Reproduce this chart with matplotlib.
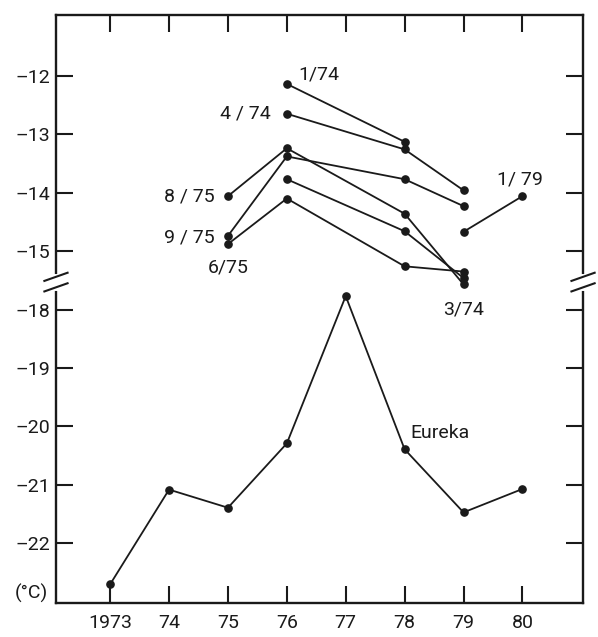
import matplotlib.pyplot as plt
import matplotlib.transforms as mtransforms

plt.rcParams['font.family'] = ['Roboto', 'DejaVu Sans']

# years on the x axis
years = [1973, 1974, 1975, 1976, 1977, 1978, 1979, 1980]
year_labels = ['1973', '74', '75', '76', '77', '78', '79', '80']

# Eureka series (lower panel, real degC)
eureka = [-22.70, -21.08, -21.39, -20.29, -17.77, -20.39, -21.47, -21.07]

# upper panel series (real degC)
s_1_74_x = [1976, 1978]
s_1_74_y = [-12.14, -13.13]
s_4_74_x = [1976, 1978, 1979]
s_4_74_y = [-12.65, -13.26, -13.96]
s_8_75_x = [1975, 1976, 1978, 1979]
s_8_75_y = [-14.06, -13.24, -14.36, -15.57]
s_9_75_x = [1975, 1976, 1978, 1979]
s_9_75_y = [-14.74, -13.38, -13.77, -14.23]
s_6_75_x = [1975, 1976, 1978, 1979]
s_6_75_y = [-14.88, -14.10, -15.26, -15.35]
s_3_74_x = [1976, 1978, 1979]
s_3_74_y = [-13.77, -14.66, -15.46]
s_1_79_x = [1979, 1980]
s_1_79_y = [-14.67, -14.06]

upper_ticks = [-12, -13, -14, -15]
lower_ticks = [-18, -19, -20, -21, -22]

SHIFT = -2.0  # upper panel drawn shifted down so -15 sits one unit above -18


def up(vals):
    return [v + SHIFT for v in vals]


fig = plt.figure(figsize=(5.98, 6.37), dpi=100)
ax = fig.add_axes([0.0936, 0.0534, 0.975 - 0.0936, 0.9765 - 0.0534])

lw = 1.3
ms = 5.2
col = '#1a1a1a'

ax.plot(years, eureka, '-o', color=col, lw=lw, ms=ms)
for xs, ys in [(s_1_74_x, s_1_74_y), (s_4_74_x, s_4_74_y), (s_8_75_x, s_8_75_y),
               (s_9_75_x, s_9_75_y), (s_6_75_x, s_6_75_y), (s_3_74_x, s_3_74_y),
               (s_1_79_x, s_1_79_y)]:
    ax.plot(xs, up(ys), '-o', color=col, lw=lw, ms=ms)

ax.set_xlim(1972.08, 1981.03)
ax.set_ylim(-23.02, -12.96)

ax.set_xticks(years)
ax.set_xticklabels(year_labels)
yt = [v + SHIFT for v in upper_ticks] + lower_ticks
ax.set_yticks(yt)
ax.set_yticklabels([str(v).replace('-', '\u2013') for v in upper_ticks + lower_ticks])

ax.tick_params(direction='in', length=12, width=1.5, top=True, right=True,
               labelsize=14, colors=col, pad=4)
ax.tick_params(axis='x', pad=8)
for sp in ax.spines.values():
    sp.set_linewidth(1.7)
    sp.set_color(col)

# axis break marks on both sides
for xa in [0.0, 1.0]:
    tr = mtransforms.blended_transform_factory(ax.transAxes, ax.transData)
    ax.plot([xa, xa], [-17.44, -17.62], color='white', lw=5, transform=tr,
            clip_on=False, zorder=5)
    for yb in [-17.44, -17.62]:
        ax.plot([xa - 0.022, xa + 0.022], [yb - 0.07, yb + 0.07], color=col,
                lw=1.5, transform=tr, clip_on=False, zorder=6)

fs = 14
ax.text(1976.2, up([-11.98])[0], '1/74', fontsize=fs, ha='left', va='center', color=col)
ax.text(1975.72, up([-12.65])[0], '4 / 74', fontsize=fs, ha='right', va='center', color=col)
ax.text(1974.78, up([-14.06])[0], '8 / 75', fontsize=fs, ha='right', va='center', color=col)
ax.text(1974.78, up([-14.76])[0], '9 / 75', fontsize=fs, ha='right', va='center', color=col)
ax.text(1975.0, up([-15.28])[0], '6/75', fontsize=fs, ha='center', va='center', color=col)
ax.text(1979.0, up([-16.0])[0], '3/74', fontsize=fs, ha='center', va='center', color=col)
ax.text(1979.95, up([-13.78])[0], '1/ 79', fontsize=fs, ha='center', va='center', color=col)
ax.text(1978.1, -20.12, 'Eureka', fontsize=fs, ha='left', va='center', color=col)
ax.text(-0.015, 0.0, '(\u00b0C)', fontsize=fs, ha='right', va='bottom',
        transform=ax.transAxes, color=col)

fig.savefig('out.png', dpi=100, facecolor='white')
